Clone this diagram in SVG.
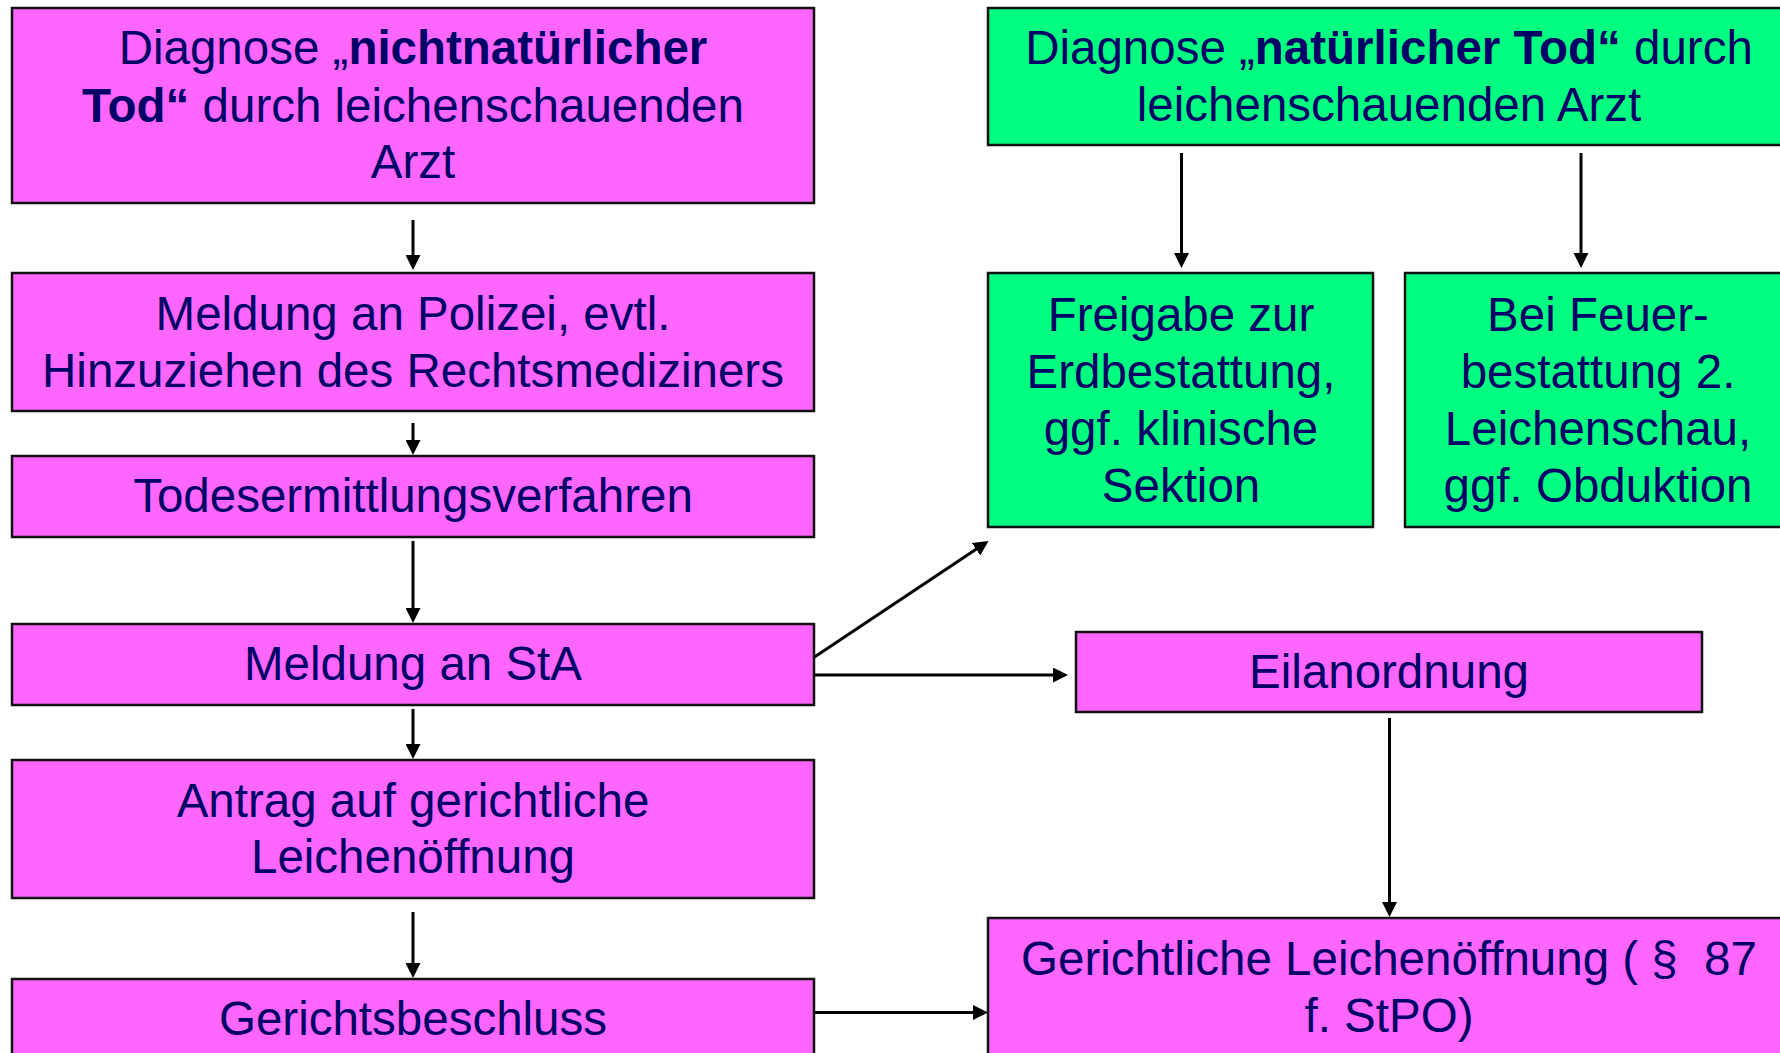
<svg xmlns="http://www.w3.org/2000/svg" width="1780" height="1053" viewBox="0 0 1780 1053">
<style>
.box{stroke:#111;stroke-width:2.5}
.pink{fill:#FF66FF}
.green{fill:#00FF80}
text{font-family:"Liberation Sans",Arial,sans-serif;font-size:47.5px;fill:#000066;text-anchor:middle}
.b{font-weight:bold}
.con{stroke:#000;stroke-width:3;fill:none;marker-end:url(#ah)}
</style>
<defs>
<marker id="ah" markerUnits="userSpaceOnUse" markerWidth="16" markerHeight="15" refX="5" refY="7.5" orient="auto">
<path d="M0,0 L15,7.5 L0,15 z" fill="#000"/>
</marker>
</defs>
<rect width="1780" height="1053" fill="#fff"/>
<g id="connectors">
<line class="con" x1="413" y1="220" x2="413" y2="260"/>
<line class="con" x1="413" y1="423" x2="413" y2="445"/>
<line class="con" x1="413" y1="541" x2="413" y2="613"/>
<line class="con" x1="413" y1="709" x2="413" y2="749"/>
<line class="con" x1="413" y1="912" x2="413" y2="968"/>
<line class="con" x1="1181.5" y1="153" x2="1181.5" y2="258"/>
<line class="con" x1="1581" y1="153" x2="1581" y2="258"/>
<line class="con" x1="813" y1="658" x2="980.2" y2="546.5"/>
<line class="con" x1="813" y1="675" x2="1058" y2="675"/>
<line class="con" x1="1389.5" y1="718" x2="1389.5" y2="907"/>
<line class="con" x1="813" y1="1012.5" x2="978" y2="1012.5"/>
</g>
<g id="n1">
<rect class="box pink" x="12" y="8" width="802" height="195"/>
<text x="413" y="64">Diagnose „<tspan class="b">nichtnatürlicher</tspan></text>
<text x="413" y="122"><tspan class="b">Tod“</tspan> durch leichenschauenden</text>
<text x="413" y="178">Arzt</text>
</g>
<g id="n2">
<rect class="box pink" x="12" y="273" width="802" height="138"/>
<text x="413" y="330">Meldung an Polizei, evtl.</text>
<text x="413" y="387">Hinzuziehen des Rechtsmediziners</text>
</g>
<g id="n3">
<rect class="box pink" x="12" y="456" width="802" height="81"/>
<text x="413" y="512">Todesermittlungsverfahren</text>
</g>
<g id="n4">
<rect class="box pink" x="12" y="624" width="802" height="81"/>
<text x="413" y="680">Meldung an StA</text>
</g>
<g id="n5">
<rect class="box pink" x="12" y="760" width="802" height="138"/>
<text x="413" y="817">Antrag auf gerichtliche</text>
<text x="413" y="873">Leichenöffnung</text>
</g>
<g id="n6">
<rect class="box pink" x="12" y="979" width="802" height="80"/>
<text x="413" y="1035">Gerichtsbeschluss</text>
</g>
<g id="n7">
<rect class="box green" x="988" y="8" width="802" height="137"/>
<text x="1389" y="64">Diagnose „<tspan class="b">natürlicher Tod“</tspan> durch</text>
<text x="1389" y="121">leichenschauenden Arzt</text>
</g>
<g id="n8">
<rect class="box green" x="988" y="273" width="385" height="254"/>
<text x="1181" y="331">Freigabe zur</text>
<text x="1181" y="388">Erdbestattung,</text>
<text x="1181" y="445">ggf. klinische</text>
<text x="1181" y="502">Sektion</text>
</g>
<g id="n9">
<rect class="box green" x="1405" y="273" width="385" height="254"/>
<text x="1598" y="331">Bei Feuer-</text>
<text x="1598" y="388">bestattung 2.</text>
<text x="1598" y="445">Leichenschau,</text>
<text x="1598" y="502">ggf. Obduktion</text>
</g>
<g id="n10">
<rect class="box pink" x="1076" y="632" width="626" height="80"/>
<text x="1389" y="688">Eilanordnung</text>
</g>
<g id="n11">
<rect class="box pink" x="988" y="918" width="802" height="138"/>
<text x="1389" y="975">Gerichtliche Leichenöffnung ( §&#160; 87</text>
<text x="1389" y="1032">f. StPO)</text>
</g>
</svg>
